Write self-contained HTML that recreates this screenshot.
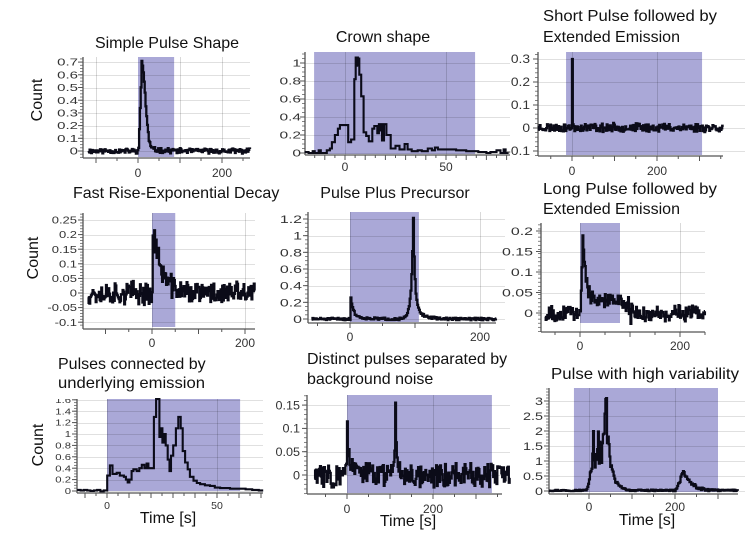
<!DOCTYPE html>
<html><head><meta charset="utf-8">
<style>
html,body{margin:0;padding:0;background:#fff;}
svg{display:block;}
.ti{font-family:"Liberation Sans",sans-serif;font-size:16px;fill:#111;}
.tk{font-family:"Liberation Sans",sans-serif;font-size:12px;fill:#333;}
.yl{font-family:"Liberation Sans",sans-serif;fill:#333;}
.tk7{font-family:"Liberation Sans",sans-serif;font-size:10.5px;fill:#333;}
</style></head><body>
<svg id="s" xmlns="http://www.w3.org/2000/svg" width="754" height="541" viewBox="0 0 754 541">
<defs><clipPath id="c7"><rect x="-40" y="399" width="50" height="20"/></clipPath></defs>
<rect width="754" height="541" fill="#fff"/>
<g id="plots"></g>

<!-- Titles -->
<g class="ti">
<text x="167" y="48" text-anchor="middle">Simple Pulse Shape</text>
<text x="383" y="42" text-anchor="middle">Crown shape</text>
<text x="543" y="21" textLength="174" lengthAdjust="spacingAndGlyphs">Short Pulse followed by</text>
<text x="543" y="42">Extended Emission</text>
<text x="73" y="198">Fast Rise-Exponential Decay</text>
<text x="395" y="198" text-anchor="middle">Pulse Plus Precursor</text>
<text x="543" y="194" textLength="174" lengthAdjust="spacingAndGlyphs">Long Pulse followed by</text>
<text x="543" y="214">Extended Emission</text>
<text x="58" y="369">Pulses connected by</text>
<text x="58" y="388" textLength="147" lengthAdjust="spacingAndGlyphs">underlying emission</text>
<text x="307" y="364">Distinct pulses separated by</text>
<text x="307" y="384">background noise</text>
<text x="645" y="379" text-anchor="middle" textLength="188" lengthAdjust="spacingAndGlyphs">Pulse with high variability</text>
<text transform="translate(42,100) rotate(-90)" text-anchor="middle">Count</text>
<text transform="translate(38,258) rotate(-90)" text-anchor="middle">Count</text>
<text transform="translate(43,445) rotate(-90)" text-anchor="middle">Count</text>
<text x="168" y="523" text-anchor="middle">Time [s]</text>
<text x="408" y="526" text-anchor="middle">Time [s]</text>
<text x="647" y="525" text-anchor="middle">Time [s]</text>
</g>

<!-- Y tick labels -->
<g class="yl" font-size="10" text-anchor="end" transform="translate(78,0) scale(1.5,1)">
<text x="0" y="154.6">0</text><text x="0" y="141.9">0.1</text><text x="0" y="129.2">0.2</text><text x="0" y="116.5">0.3</text><text x="0" y="103.8">0.4</text><text x="0" y="91.1">0.5</text><text x="0" y="78.4">0.6</text><text x="0" y="65.7">0.7</text>
</g>
<g class="yl" font-size="10" text-anchor="end" transform="translate(301,0) scale(1.55,1)">
<text x="0" y="156.6">0</text><text x="0" y="138.6">0.2</text><text x="0" y="120.6">0.4</text><text x="0" y="102.6">0.6</text><text x="0" y="84.6">0.8</text><text x="0" y="66.6">1</text>
</g>
<g class="yl" font-size="11.5" text-anchor="end" transform="translate(530,0) scale(1.2,1)">
<text x="0" y="63.1">0.3</text><text x="0" y="86.1">0.2</text><text x="0" y="109.1">0.1</text><text x="0" y="132.1">0</text><text x="0" y="155.1">-0.1</text>
</g>
<g class="yl" font-size="10" text-anchor="end" transform="translate(77,0) scale(1.3,1)">
<text x="0" y="223.6">0.25</text><text x="0" y="238.2">0.2</text><text x="0" y="252.8">0.15</text><text x="0" y="267.4">0.1</text><text x="0" y="282">0.05</text><text x="0" y="296.6">0</text><text x="0" y="311.2">-0.05</text><text x="0" y="325.8">-0.1</text>
</g>
<g class="yl" font-size="11" text-anchor="end" transform="translate(302,0) scale(1.45,1)">
<text x="0" y="223">1.2</text><text x="0" y="239.7">1</text><text x="0" y="256.3">0.8</text><text x="0" y="273">0.6</text><text x="0" y="289.7">0.4</text><text x="0" y="306.3">0.2</text><text x="0" y="323">0</text>
</g>
<g class="yl" font-size="11" text-anchor="end" transform="translate(533,0) scale(1.45,1)">
<text x="0" y="235">0.2</text><text x="0" y="255.5">0.15</text><text x="0" y="276">0.1</text><text x="0" y="296.5">0.05</text><text x="0" y="317">0</text>
</g>
<g class="yl" font-size="8.5" text-anchor="end" transform="translate(71,0) scale(1.33,1)">
<text x="0" y="402.9" clip-path="url(#c7)">1.6</text><text x="0" y="414.3">1.4</text><text x="0" y="425.7">1.2</text><text x="0" y="437.1">1</text><text x="0" y="448.5">0.8</text><text x="0" y="459.9">0.6</text><text x="0" y="471.3">0.4</text><text x="0" y="482.7">0.2</text><text x="0" y="494.1">0</text>
</g>
<g class="yl" font-size="12" text-anchor="end" transform="translate(300,0) scale(1.05,1)">
<text x="0" y="409.4">0.15</text><text x="0" y="432.7">0.1</text><text x="0" y="456">0.05</text><text x="0" y="479.3">0</text>
</g>
<g class="yl" font-size="11.5" text-anchor="end" transform="translate(543,0) scale(1.25,1)">
<text x="0" y="405.1">3</text><text x="0" y="420.1">2.5</text><text x="0" y="435.1">2</text><text x="0" y="450.1">1.5</text><text x="0" y="465.1">1</text><text x="0" y="480.1">0.5</text><text x="0" y="495.1">0</text>
</g>

<!-- X tick labels -->
<g class="tk" text-anchor="middle">
<text x="138" y="177">0</text><text x="222" y="177">200</text>
<text x="345" y="171">0</text><text x="446" y="171">50</text>
<text x="572" y="175">0</text><text x="657" y="175">200</text>
<text x="152" y="347">0</text><text x="245" y="347">200</text>
<text x="350" y="341">0</text><text x="480" y="341">200</text>
<text x="580" y="350">0</text><text x="680" y="350">200</text>
<text x="347" y="513">0</text><text x="433" y="513">200</text>
<text x="589" y="511">0</text><text x="675" y="511">200</text>
</g>
<g class="tk7" text-anchor="middle">
<text x="107" y="509">0</text><text x="217" y="509">50</text>
</g>
</svg>
<script>
(function(){
const NS="http://www.w3.org/2000/svg";
const G=document.getElementById('plots');
function el(tag,a,par){const e=document.createElementNS(NS,tag);for(const k in a)e.setAttribute(k,a[k]);(par||G).appendChild(e);return e;}
function rng(seed){let s=seed>>>0;return function(){s=(Math.imul(s,1664525)+1013904223)>>>0;return s/4294967296;};}
function series(t0,t1,dt,sig,noise,seed){const r=rng(seed);const pts=[];for(let t=t0;t<=t1+1e-9;t+=dt){pts.push([t,sig(t)+noise(t,r)]);}return {pts:pts,tend:t1};}
function interp(cp,t,def){if(t<=cp[0][0]||t>=cp[cp.length-1][0])return def;for(let i=1;i<cp.length;i++){if(t<=cp[i][0]){const a=cp[i-1],b=cp[i];return a[1]+(b[1]-a[1])*(t-a[0])/(b[0]-a[0]);}}return def;}

function draw(p){
 const X=t=>p.x0+t*p.xs, Y=v=>p.y0-v*p.yu;
 const g=el('g',{});
 el('rect',{x:X(p.sh[0]),y:p.T,width:X(p.sh[1])-X(p.sh[0]),height:p.shB-p.T,fill:'#aaa8d7'},g);
 for(const v of p.hg){const y=Math.round(Y(v))+0.5;el('line',{x1:p.L,x2:p.GR,y1:y,y2:y,stroke:'#000','stroke-opacity':0.12,'stroke-width':1},g);}
 for(const t of p.vg){const x=Math.round(X(t))+0.5;el('line',{x1:x,x2:x,y1:p.T,y2:p.B,stroke:'#000','stroke-opacity':0.15,'stroke-width':1},g);}
 for(let v=p.ys;Y(v)>=p.T-0.5;v+=p.ym){const y=Y(v);if(y<=p.B+0.5)el('line',{x1:p.L-3,x2:p.L,y1:y,y2:y,stroke:'#666','stroke-width':0.8},g);}
 for(const v of p.hg){const y=Y(v);el('line',{x1:p.L-5,x2:p.L,y1:y,y2:y,stroke:'#555','stroke-width':1},g);}
 for(let t=Math.ceil(((p.L-p.x0)/p.xs)/p.xm)*p.xm; X(t)<=p.R; t+=p.xm){const x=X(t);const q=t/p.xM;const maj=Math.abs(q-Math.round(q))<1e-6;el('line',{x1:x,x2:x,y1:p.B,y2:p.B+(maj?5:3),stroke:'#555','stroke-width':1},g);}
 el('line',{x1:p.L,x2:p.L,y1:p.T,y2:p.B,stroke:'#555','stroke-width':1.3},g);
 el('line',{x1:p.L,x2:p.R,y1:p.B,y2:p.B,stroke:'#555','stroke-width':1.3},g);
 const Yc=v=>Math.max(p.T,Math.min(p.B-1,Y(v)));
 const pts=p.data.pts;let d='M'+X(pts[0][0]).toFixed(1)+' '+Yc(pts[0][1]).toFixed(1);
 for(let i=1;i<pts.length;i++){d+='H'+X(pts[i][0]).toFixed(1)+'V'+Yc(pts[i][1]).toFixed(1);}
 d+='H'+X(p.data.tend).toFixed(1);
 el('path',{d:d,fill:'none',stroke:'#0b0b18','stroke-width':p.sw||2.3,'stroke-linejoin':'miter'},g);
}
const U=(r)=>r()-0.5;

// P1
draw({L:83,R:250,GR:250,T:57,B:158,x0:138,xs:0.42,y0:151,yu:127,sh:[0,86],shB:157,
 hg:[0,.1,.2,.3,.4,.5,.6,.7],vg:[-100,100,200],ys:-0.05,ym:0.025,xm:50,xM:100,
 data:series(-119,267,1.9,t=>t<0?0:(t<8?0.68*Math.pow(t/8,1.3):0.68*Math.exp(-(t-8)*(t-8)/140)+0.025*Math.exp(-(t-8)/30)),(t,r)=>U(r)*0.035+U(r)*0.01,11)});

// P2
(function(){
 const L=[[-20,0.01],[-18,0.0],[-16,0.02],[-15,0.0],[-13,0.03],[-12,0.0],[-10,0.0],[-9,0.03],[-7.5,0.05],[-6.5,0.12],[-5,0.2],[-3.5,0.27],[-2.5,0.31],[1.6,0.12],[3,0.15],[4.6,0.82],[5.3,1.06],[5.7,0.97],[6.0,1.06],[6.4,0.98],[6.7,1.05],[7.1,0.87],[8,0.63],[9.2,0.23],[10.5,0.19],[11.8,0.13],[13.5,0.27],[14.5,0.3],[16,0.22],[16.8,0.32],[17.4,0.25],[17.8,0.32],[18.3,0.14],[19.3,0.32],[20.5,0.2],[22.6,0.05],[25,0.08],[27,0.04],[29.5,0.1],[31,0.04],[33,0.02],[36,0.03],[38,0.02],[41,0.05],[43,0.03],[44.5,0.06],[46,0.04],[50,0.04],[55,0.03],[60,0.02],[66,0.01],[70,0.0],[72,0.01],[75,0.03],[77,0.0],[78.5,0.04],[79.5,0.0]];
 draw({L:305,R:510,GR:510,T:52,B:155,x0:345,xs:2.02,y0:153,yu:90,sh:[-15.3,64.4],shB:154,
 hg:[0,.2,.4,.6,.8,1],vg:[0,50],ys:0,ym:0.05,xm:5,xM:10,sw:2.1,data:{pts:L,tend:81}});
})();

// P3
draw({L:538,R:723,GR:745,T:52,B:156,x0:572,xs:0.425,y0:128,yu:230,sh:[-14,306],shB:155,
 hg:[-.1,0,.1,.2,.3],vg:[0,200],ys:-0.12,ym:0.02,xm:50,xM:100,
 data:series(-79.8,357,1.9,t=>(t>=-0.1&&t<1.8)?0.3:0.002,(t,r)=>(t>=-0.1&&t<1.8)?0:U(r)*0.032+U(r)*0.01,23)});

// P4
draw({L:83,R:255,GR:255,T:213,B:329,x0:152,xs:0.465,y0:293,yu:292,sh:[0,50],shB:327,
 hg:[-.1,-.05,0,.05,.1,.15,.2,.25],vg:[0,200],ys:-0.11,ym:0.01,xm:50,xM:100,
 data:series(-138,222,1.7,t=>t<0?0:(t<2?0.235*t/2:0.23*Math.exp(-(t-2)/17)),(t,r)=>U(r)*0.07+U(r)*0.02,37)});

// P5
draw({L:308,R:496,GR:505,T:212,B:323,x0:350,xs:0.65,y0:319,yu:83.33,sh:[0,106],shB:322,
 hg:[0,.2,.4,.6,.8,1,1.2],vg:[0,200],ys:0,ym:0.05,xm:50,xM:100,
 data:series(-59,225,1.3,t=>{let v=0;if(t>=0)v+=0.27*Math.exp(-t/3.5)+0.05*Math.exp(-t/15);
  if(t<97)v+=1.2*Math.exp(-(97-t)/3.2);else v+=1.05*Math.exp(-(t-97)/2.3)+0.17*Math.exp(-(t-97)/12);return v;},
  (t,r)=>U(r)*0.03,51)});

// P6
draw({L:541,R:705,GR:705,T:223,B:332,x0:580,xs:0.5,y0:313,yu:410,sh:[0,80],shB:323,
 hg:[0,.05,.1,.15,.2],vg:[0,200],ys:-0.045,ym:0.01,xm:50,xM:100,
 data:series(-70.2,250,1.6,t=>t<0?0:(t<5?0.19*t/5:0.16*Math.exp(-(t-5)/5.5)+0.03*(t<85?1:Math.exp(-(t-85)/10))),
  (t,r)=>U(r)*0.034+U(r)*0.01+(r()<0.03?U(r)*0.04:0),67)});

// P7
(function(){
 const L=[[-13.6,0.02],[-12,0.01],[-10.5,0.02],[-9,0.01],[-7.5,0.0],[-6,0.01],[-4.5,0.02],[-3,-0.005],[-1.5,0.01],[0.1,0.27],[1.3,0.45],[2.5,0.3],[4.4,0.32],[5.8,0.27],[7.7,0.25],[8.6,0.2],[9.4,0.15],[10.2,0.2],[11.2,0.35],[12,0.38],[13.5,0.35],[14.7,0.4],[15.8,0.46],[17,0.4],[18,0.48],[18.8,0.4],[21.3,1.3],[22.3,1.7],[23.8,0.95],[24.5,1.1],[25.2,0.85],[26,1.0],[26.7,0.8],[27.6,0.55],[28.4,0.35],[29.1,0.62],[30.1,0.8],[31.3,1.1],[32.4,1.3],[33.5,1.1],[34.4,0.7],[35.5,0.5],[36.7,0.38],[37.7,0.25],[39.3,0.18],[40.8,0.14],[42.3,0.12],[44.5,0.1],[46.8,0.09],[49,0.06],[51.4,0.05],[55.9,0.04],[60.5,0.04],[63,0.03],[66,0.02],[69,0.01]];
 draw({L:77,R:263,GR:263,T:399,B:493,x0:107,xs:2.2,y0:491,yu:57,sh:[0,60.5],shB:491,
 hg:[0,.2,.4,.6,.8,1,1.2,1.4,1.6],vg:[0,50],ys:0,ym:0.05,xm:5,xM:10,sw:2.1,data:{pts:L,tend:71}});
})();

// P8
draw({L:307,R:502,GR:510,T:395,B:494,x0:347,xs:0.43,y0:475,yu:466,sh:[0,337],shB:493,
 hg:[0,.05,.1,.15],vg:[0,200],ys:-0.04,ym:0.01,xm:50,xM:100,
 data:series(-76,379,1.9,t=>{let v=0;if(t>=-4&&t<0)v+=0.02;if(t>=0)v+=0.095*Math.exp(-t/2.5)+0.02*Math.exp(-t/20);
  v+=0.12*Math.exp(-Math.abs(t-112.1)/1.5)+0.035*Math.exp(-Math.abs(t-112.1)/10);return v;},
  (t,r)=>(Math.abs(t)<1||Math.abs(t-112.1)<1)?0:U(r)*0.048+U(r)*0.01,83)});

// P9
(function(){
 const cp=[[-12,0.02],[-6,0.05],[-2,0.2],[0,0.4],[3,0.7],[6,0.9],[8,1.6],[9.5,2.05],[11,1.3],[13,0.8],[15,1.5],[17,0.9],[19,1.2],[21,1.8],[23,1.0],[25.5,2.1],[27,1.2],[29,0.9],[31,1.5],[33,2.4],[35,2.0],[37,3.25],[39,2.6],[40.5,3.0],[42,1.8],[45,1.4],[48,1.0],[52,0.75],[57,0.45],[63,0.3],[70,0.17],[78,0.08],[88,0.04],[95,0.02]];
 draw({L:549,R:738,GR:745,T:388,B:494,x0:589,xs:0.43,y0:491,yu:30,sh:[-35,300],shB:492,
 hg:[0,.5,1,1.5,2,2.5,3],vg:[0,200],ys:0,ym:0.1,xm:50,xM:100,
 data:series(-93,346,1.9,t=>{let v=interp(cp,t,0.02);if(t>180&&t<300){v+=(t<220?0.62*Math.exp(-Math.pow((220-t)/11,2)):0.62*Math.exp(-(t-220)/17));}return v;},
  (t,r)=>{const s=interp(cp,t,0);let n=U(r)*0.05;if(s>0.05)n+=U(r)*0.4*Math.min(s,1.5);if(t>195&&t<280)n+=U(r)*0.1;return n;},97)});
})();
})();
</script>
</body></html>
